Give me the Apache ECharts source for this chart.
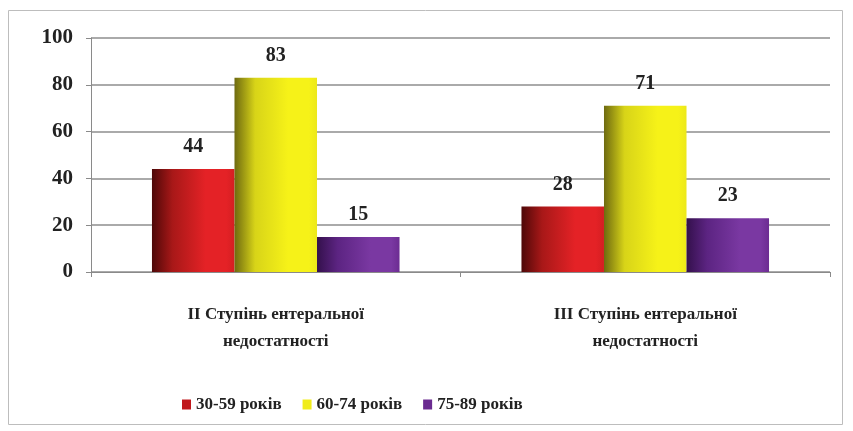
<!DOCTYPE html>
<html><head><meta charset="utf-8">
<script src="https://cdn.jsdelivr.net/npm/echarts@6/dist/echarts.min.js"></script>
<style>html,body{margin:0;padding:0;background:#fff}#c{width:853px;height:431px}</style>
</head><body><div id="c"></div>
<script>
const categories = ['ІІ Ступінь ентеральної\nнедостатності', 'ІІІ Ступінь ентеральної\nнедостатності'];
const seriesNames = ['30-59 років', '60-74 років', '75-89 років'];
const values3059 = [44, 28];
const values6074 = [83, 71];
const values7589 = [15, 23];
const yTicks = [0, 20, 40, 60, 80, 100];

function grad(dark, mid, bright, edge) {
  return new echarts.graphic.LinearGradient(0, 0, 1, 0, [
    {offset: 0, color: dark}, {offset: 0.25, color: mid},
    {offset: 0.65, color: bright}, {offset: 0.9, color: bright}, {offset: 1, color: edge}
  ]);
}
const styles = [
  {c: grad('#4e0808', '#a81818', '#e42226', '#d41e22'), leg: '#c0181c'},
  {c: grad('#6e6a10', '#d8d418', '#f6f218', '#ece81a'), leg: '#f0ec1a'},
  {c: grad('#34104c', '#5c2482', '#7a38a2', '#6c2c92'), leg: '#6a2a90'}
];
const dataSets = [values3059, values6074, values7589];
const font = '"Liberation Serif", "Times New Roman", serif';

const chart = echarts.init(document.getElementById('c'), null, {renderer: 'canvas'});
chart.setOption({
  animation: false,
  textStyle: {fontFamily: font},
  graphic: [{type: 'rect', shape: {x: 8.5, y: 10.5, width: 834, height: 414}, style: {fill: 'none', stroke: '#bdbdbd', lineWidth: 1}, z: -1}],
  grid: {left: 91, right: 23, top: 38, bottom: 159},
  legend: {
    bottom: 13, left: 177, itemWidth: 9, itemHeight: 10, itemGap: 21,
    icon: 'rect',
    textStyle: {fontFamily: font, fontSize: 17, fontWeight: 'bold', color: '#222'},
    data: seriesNames.map((n, i) => ({name: n, itemStyle: {color: styles[i].leg}}))
  },
  xAxis: {
    type: 'category', data: categories,
    axisLine: {lineStyle: {color: '#8a8a8a', width: 1}},
    axisTick: {show: true, length: 5, lineStyle: {color: '#8a8a8a'}},
    axisLabel: {fontFamily: font, fontSize: 17, fontWeight: 'bold', color: '#222', lineHeight: 27, margin: 29}
  },
  yAxis: {
    type: 'value', min: yTicks[0], max: yTicks[yTicks.length - 1], interval: 20,
    axisLine: {show: true, lineStyle: {color: '#8a8a8a'}},
    axisTick: {show: true, length: 5, lineStyle: {color: '#8a8a8a'}},
    axisLabel: {fontFamily: font, fontSize: 21, fontWeight: 'bold', color: '#222', margin: 18},
    splitLine: {lineStyle: {color: '#8e8e8e', width: 1.5}}
  },
  series: seriesNames.map((n, i) => ({
    name: n, type: 'bar', data: dataSets[i],
    barGap: '0%', barCategoryGap: '33%',
    itemStyle: {color: styles[i].c},
    label: {show: true, position: 'top', distance: 12, fontFamily: font, fontSize: 20, fontWeight: 'bold', color: '#222'}
  }))
});
</script></body></html>
